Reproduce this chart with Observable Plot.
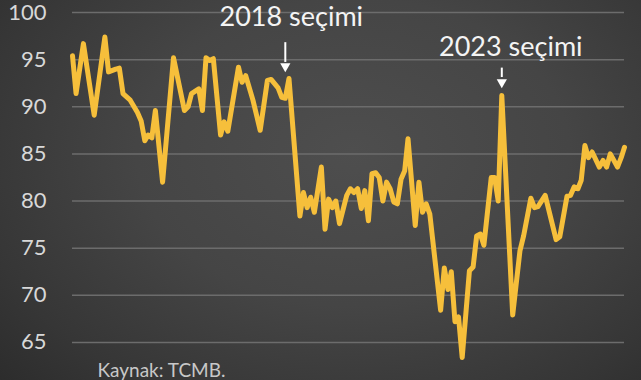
<!DOCTYPE html>
<html>
<head>
<meta charset="utf-8">
<script src="https://cdn.jsdelivr.net/npm/d3@7"></script>
<script src="https://cdn.jsdelivr.net/npm/@observablehq/plot@0.6"></script>
<style>
  html, body { margin: 0; padding: 0; background: #3a3a3a; }
  #wrap {
    width: 641px; height: 380px; overflow: hidden;
    background: radial-gradient(ellipse 75% 90% at 55% 40%, #4e4e4e 0%, #454545 45%, #363636 80%, #2c2c2c 100%);
  }
</style>
</head>
<body>
<div id="wrap"></div>
<script>
const months = ["2013-06","2013-07","2013-09","2013-12","2014-03","2014-04","2014-06","2014-07","2014-08","2014-10",
  "2014-12","2015-01","2015-02","2015-03","2015-04","2015-05","2015-07","2015-10","2016-01","2016-02",
  "2016-03","2016-05","2016-06","2016-07","2016-08","2016-09","2016-11","2016-12","2017-01","2017-04",
  "2017-05","2017-06","2017-08","2017-10","2017-12","2018-01","2018-03","2018-04","2018-05","2018-06",
  "2018-09","2018-10","2018-11","2018-12","2019-01","2019-03","2019-04","2019-05","2019-06","2019-07",
  "2019-08","2019-10","2019-11","2019-12","2020-01","2020-02","2020-03","2020-04","2020-05","2020-06",
  "2020-07","2020-08","2020-09","2020-10","2020-11","2020-12","2021-01","2021-02","2021-03","2021-05",
  "2021-06","2021-07","2021-08","2021-09","2021-12","2022-01","2022-02","2022-03","2022-04","2022-05",
  "2022-06","2022-08","2022-09","2022-10","2022-11","2022-12","2023-02","2023-03","2023-04","2023-05",
  "2023-08","2023-10","2023-11","2024-01","2024-02","2024-03","2024-05","2024-08","2024-09","2024-11",
  "2024-12","2025-01","2025-02","2025-03","2025-04","2025-05","2025-06","2025-08","2025-09","2025-10",
  "2025-11","2026-01","2026-02","2026-03"];
const values = [95.4,91.4,96.7,89.1,97.4,93.7,94.0,94.1,91.4,90.7,
  89.4,88.5,86.4,87.0,86.7,89.6,82.0,95.2,89.6,90.0,
  91.4,91.9,89.6,95.2,94.9,95.1,87.0,88.4,87.4,94.2,
  92.6,93.3,90.7,87.5,92.8,92.9,92.0,91.0,90.9,93.0,
  78.4,80.9,79.3,80.4,78.8,83.6,77.0,80.2,79.3,80.0,
  77.6,80.6,81.3,80.9,81.3,79.2,81.1,77.9,82.9,83.0,
  82.5,80.0,82.0,81.3,79.9,79.7,82.3,83.2,86.6,77.4,
  82.0,78.8,79.7,78.6,68.4,72.9,70.6,72.5,67.2,67.7,
  63.4,72.6,73.0,76.3,76.5,75.3,82.5,82.5,80.0,91.2,
  67.9,74.7,76.3,80.3,79.3,79.4,80.6,75.9,76.2,80.5,
  80.6,81.5,81.3,82.2,85.9,84.6,85.2,83.6,84.3,83.6,
  85.0,83.6,84.6,85.7];
const yTicks = [60,65,70,75,80,85,90,95,100];
const notes = ["2018 seçimi", "2023 seçimi"];
const noteMonths = ["2018-05", "2023-05"];
const noteTextY = [99.5, 96.3];
const arrowTop = [96.8, 94.1];
const arrowBottom = [94.7, 93.1];
const arrowHead = [94.3, 92.6];
const source = "Kaynak: TCMB.";

const data = months.map((m, i) => ({date: new Date(m + "-01"), value: values[i]}));
const ann = notes.map((t, i) => ({
  text: t, date: new Date(noteMonths[i] + "-01"), ty: noteTextY[i],
  a1: arrowTop[i], a2: arrowBottom[i], ah: arrowHead[i]
}));

const font = "Lato, 'Open Sans', sans-serif";
const chart = Plot.plot({
  width: 641,
  height: 380,
  marginLeft: 72,
  marginRight: 17,
  marginTop: 12,
  marginBottom: 0,
  style: {background: "transparent", color: "#d6d6d6", fontFamily: font, overflow: "hidden"},
  x: {type: "utc", domain: [data[0].date, data[data.length - 1].date], range: [72, 624], axis: null},
  y: {domain: [60, 100], range: [389, 12]},
  marks: [
    Plot.ruleY(yTicks, {stroke: "#6c6c6c", strokeWidth: 1.5}),
    Plot.axisY(yTicks, {tickSize: 0, tickPadding: 26, fontSize: 22, fill: "#d8d8d8"}),
    Plot.lineY(data, {x: "date", y: "value", stroke: "#f6bf3b", strokeWidth: 5,
      strokeLinejoin: "round", strokeLinecap: "round"}),
    Plot.ruleX(ann, {x: "date", y1: "a1", y2: "a2", stroke: "#ffffff", strokeWidth: 2}),
    Plot.dot(ann, {x: "date", y: "ah", symbol: "triangle", r: 3.8, rotate: 180, fill: "#ffffff", stroke: null}),
    Plot.text(ann.slice(0,1), {x: "date", y: "ty", text: "text", dx: 6, fill: "#f4f4f4", fontSize: 27}),
    Plot.text(ann.slice(1), {x: "date", y: "ty", text: "text", dx: 9, fill: "#f4f4f4", fontSize: 27}),
    Plot.text([source], {frameAnchor: "bottom-left", dx: 25, dy: -10, lineAnchor: "middle",
      textAnchor: "start", fill: "#c8c8c8", fontSize: 19})
  ]
});
document.getElementById("wrap").appendChild(chart);
</script>
</body>
</html>
